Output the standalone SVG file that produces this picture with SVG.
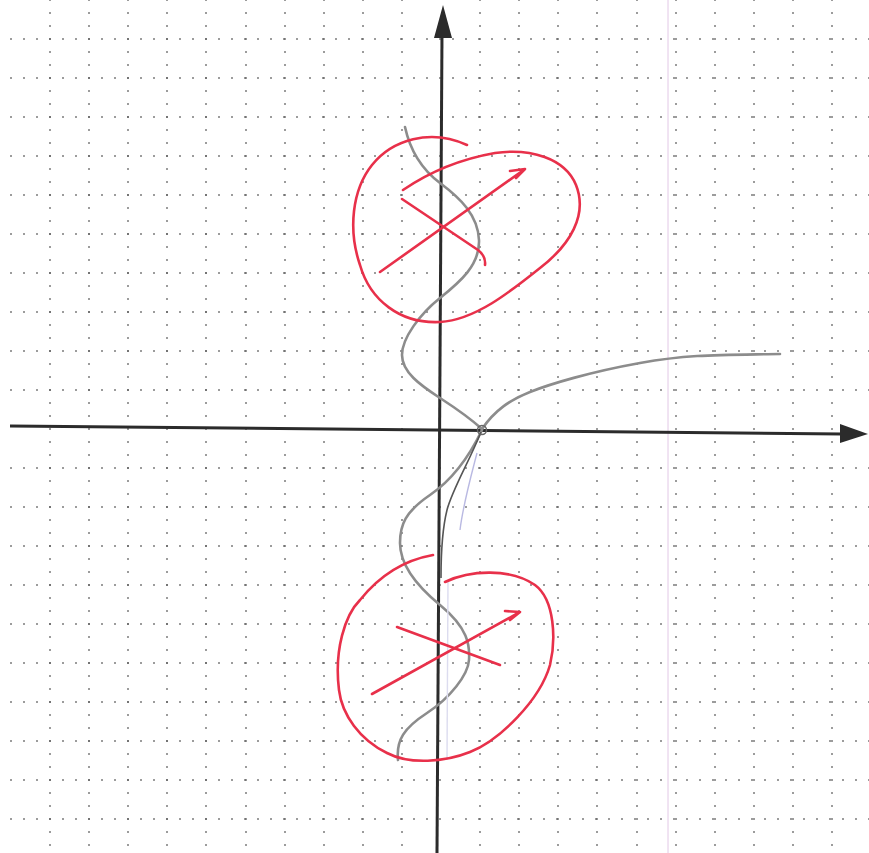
<svg xmlns="http://www.w3.org/2000/svg" width="869" height="853" viewBox="0 0 869 853">
<style>
.gh{stroke:#5a5a5a;stroke-width:1.6;stroke-dasharray:1.6 11.4;fill:none}
.gv{stroke:#5a5a5a;stroke-width:1.6;stroke-dasharray:1.6 11.4;fill:none}
.axis{stroke:#2b2b2b;stroke-width:3;fill:none}
.locus{stroke:#8c8c8c;stroke-width:2.6;fill:none;stroke-linecap:round;stroke-linejoin:round}
.red{stroke:#e8304a;stroke-width:2.6;fill:none;stroke-linecap:round;stroke-linejoin:round}
</style>
<rect width="869" height="853" fill="#ffffff"/>
<g id="grid">
<g class="gh">
<line x1="10.2" y1="39" x2="869" y2="39"/><line x1="10.2" y1="78" x2="869" y2="78"/><line x1="10.2" y1="117" x2="869" y2="117"/><line x1="10.2" y1="156" x2="869" y2="156"/><line x1="10.2" y1="195" x2="869" y2="195"/><line x1="10.2" y1="234" x2="869" y2="234"/><line x1="10.2" y1="273" x2="869" y2="273"/><line x1="10.2" y1="312" x2="869" y2="312"/><line x1="10.2" y1="351" x2="869" y2="351"/><line x1="10.2" y1="390" x2="869" y2="390"/><line x1="10.2" y1="468" x2="869" y2="468"/><line x1="10.2" y1="507" x2="869" y2="507"/><line x1="10.2" y1="546" x2="869" y2="546"/><line x1="10.2" y1="585" x2="869" y2="585"/><line x1="10.2" y1="624" x2="869" y2="624"/><line x1="10.2" y1="663" x2="869" y2="663"/><line x1="10.2" y1="702" x2="869" y2="702"/><line x1="10.2" y1="741" x2="869" y2="741"/><line x1="10.2" y1="780" x2="869" y2="780"/><line x1="10.2" y1="819" x2="869" y2="819"/>
</g>
<g class="gv">
<line x1="50" y1="-0.8" x2="50" y2="853"/><line x1="89" y1="-0.8" x2="89" y2="853"/><line x1="128" y1="-0.8" x2="128" y2="853"/><line x1="167" y1="-0.8" x2="167" y2="853"/><line x1="206" y1="-0.8" x2="206" y2="853"/><line x1="246" y1="-0.8" x2="246" y2="853"/><line x1="285" y1="-0.8" x2="285" y2="853"/><line x1="324" y1="-0.8" x2="324" y2="853"/><line x1="363" y1="-0.8" x2="363" y2="853"/><line x1="402" y1="-0.8" x2="402" y2="853"/><line x1="480" y1="-0.8" x2="480" y2="853"/><line x1="519" y1="-0.8" x2="519" y2="853"/><line x1="558" y1="-0.8" x2="558" y2="853"/><line x1="597" y1="-0.8" x2="597" y2="853"/><line x1="637" y1="-0.8" x2="637" y2="853"/><line x1="676" y1="-0.8" x2="676" y2="853"/><line x1="715" y1="-0.8" x2="715" y2="853"/><line x1="754" y1="-0.8" x2="754" y2="853"/><line x1="793" y1="-0.8" x2="793" y2="853"/><line x1="832" y1="-0.8" x2="832" y2="853"/>
</g>
<line x1="668" y1="0" x2="668" y2="853" stroke="#e2c8e6" stroke-width="1"/>
</g>
<g id="axes">
<path class="axis" d="M437,853 L442,34"/>
<polygon points="443,5 452,38 434,38" fill="#2b2b2b"/>
<path class="axis" d="M10,426 L842,434"/>
<polygon points="868,434 840,424 840,443" fill="#2b2b2b"/>
</g>
<g id="locus">
<path class="locus" d="M405,127 C410,150 420,168 440,183 S478,215 479,240 S460,282 440,298 S402,338 402,355 S420,385 440,398 S472,420 482,429"/>
<path class="locus" d="M482,429 C495,410 510,400 530,392 S590,372 640,363 S720,355 780,354"/>
<path class="locus" d="M482,430 C470,455 455,478 430,495 S400,525 400,543 S412,582 440,605 S470,645 469,660 S450,698 427,713 S396,740 398,760"/>
<path d="M481,432 C470,460 452,490 447,510 S441,550 441,578" stroke="#555" stroke-width="1.6" fill="none"/>
<path d="M477,453 C470,480 463,505 460,530" stroke="#b9b9e2" stroke-width="1.4" fill="none"/>
<path d="M448,580 L447,760" stroke="#dcdcef" stroke-width="1.4" fill="none"/>
<circle cx="482" cy="430" r="4.5" fill="none" stroke="#666" stroke-width="1.5"/>
</g>
<g id="pole-upper">
<path class="red" d="M403,190 C425,175 455,160 495,153 C530,148 565,158 576,185 C588,215 570,245 540,268 C510,292 475,320 440,322 C400,324 370,300 360,265 C348,230 352,190 372,165 C392,140 430,128 467,145"/>
<path class="red" d="M380,272 L525,169 M510,171 L525,169 L516,178"/>
<path class="red" d="M402,199 L478,250 Q486,256 485,265"/>
</g>
<g id="pole-lower">
<path class="red" d="M445,582 C470,570 510,568 535,585 C555,600 556,640 550,665 C540,700 500,740 470,752 C445,762 410,765 387,753 C360,740 342,715 339,690 C334,650 345,615 360,600 C380,575 405,560 433,555"/>
<path class="red" d="M372,694 L520,612 M505,611 L520,612 L510,620"/>
<path class="red" d="M397,627 L500,665"/>
</g>
</svg>
